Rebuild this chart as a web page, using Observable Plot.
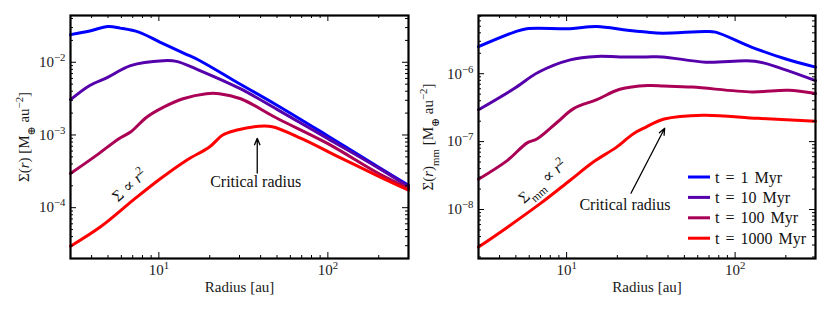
<!DOCTYPE html>
<html><head><meta charset="utf-8">
<script src="https://cdn.jsdelivr.net/npm/d3@7"></script>
<script src="https://cdn.jsdelivr.net/npm/@observablehq/plot@0.6"></script>
<style>
body{margin:0;background:#fff;}
#wrap{display:flex;width:830px;height:312px;}
svg, svg text{font-family:"Liberation Serif","Times New Roman","DejaVu Serif",serif !important;}
</style></head><body><div id="wrap"></div>
<script>
// ---------- data ----------
const seriesLabels = ["t = 1 Myr", "t = 10 Myr", "t = 100 Myr", "t = 1000 Myr"];
const seriesColors = ["#0000ff", "#5500aa", "#aa0055", "#ff0000"];

// Left panel: total surface density Σ(r)
const rL1 = [3, 3.9, 5.0, 5.9, 7.6, 10.2, 14.2, 17.5, 28.6, 50, 100, 200, 300];
const sL1 = [0.024, 0.027, 0.031, 0.0295, 0.026, 0.0188, 0.0132, 0.0105, 0.0054, 0.00257, 0.00097, 0.00036, 0.000204];
const rL2 = [3, 3.9, 4.97, 6.8, 10.6, 12.7, 17.5, 30.5, 50, 100, 200, 300];
const sL2 = [0.00306, 0.0048, 0.0062, 0.0090, 0.0105, 0.0103, 0.0077, 0.0043, 0.00225, 0.00089, 0.00035, 0.000195];
const rL3 = [3, 4.25, 5.8, 6.8, 8.5, 10.6, 13.9, 19.1, 22.8, 30.5, 50, 100, 200, 300];
const sL3 = [0.000295, 0.00052, 0.00089, 0.0011, 0.00177, 0.0024, 0.00315, 0.0037, 0.0037, 0.00315, 0.0017, 0.00076, 0.000295, 0.000185];
const rL4 = [3, 4.54, 7.1, 10.2, 14.6, 20, 23.9, 28.6, 39, 46.9, 70, 110, 200, 300];
const sL4 = [2.95e-5, 5.5e-5, 1.29e-4, 2.5e-4, 4.5e-4, 6.9e-4, 1.0e-3, 1.16e-3, 1.32e-3, 1.3e-3, 8.9e-4, 5.3e-4, 2.7e-4, 1.74e-4];

// Right panel: mm-dust surface density Σ(r)_mm
const rR1 = [3, 4.9, 5.8, 10.5, 15.1, 23, 29.7, 37, 67, 76.5, 126, 198, 300];
const sR1 = [2.5e-6, 4.1e-6, 4.6e-6, 4.6e-6, 4.95e-6, 4.35e-6, 4.1e-6, 3.96e-6, 4.2e-6, 4.1e-6, 2.45e-6, 1.66e-6, 1.25e-6];
const rR2 = [3, 4.86, 6.8, 10.5, 15.1, 20.7, 29.7, 37, 67, 131, 189, 300];
const sR2 = [2.95e-7, 6.0e-7, 1.05e-6, 1.6e-6, 1.8e-6, 1.77e-6, 1.77e-6, 1.77e-6, 1.48e-6, 1.53e-6, 1.19e-6, 7.9e-7];
const rR3 = [3, 4.46, 5.8, 6.7, 8.8, 11, 15.1, 20.7, 30.3, 37.8, 55.8, 126, 207, 300];
const sR3 = [2.8e-8, 5.3e-8, 9.5e-8, 1.1e-7, 1.93e-7, 3.06e-7, 4.15e-7, 5.9e-7, 6.7e-7, 6.6e-7, 6.35e-7, 5.4e-7, 5.7e-7, 5.1e-7];
const rR4 = [3, 4.46, 7.0, 10.5, 14.4, 19.8, 24.8, 29.6, 37.9, 64.5, 137, 300];
const sR4 = [2.8e-9, 5.5e-9, 1.23e-8, 2.7e-8, 5.0e-8, 8.3e-8, 1.3e-7, 1.64e-7, 2.15e-7, 2.45e-7, 2.2e-7, 2.0e-7];

// Axes
const xDomain = [3, 300];
const xMajor = [10, 100];
const xMinor = [4, 5, 6, 7, 8, 9, 20, 30, 40, 50, 60, 70, 80, 90, 200];
const yDomainL = [2.0e-5, 4.4e-2];
const yMajorL = [1e-4, 1e-3, 1e-2];
const yMinorL = [3e-5, 4e-5, 5e-5, 6e-5, 7e-5, 8e-5, 9e-5, 2e-4, 3e-4, 4e-4, 5e-4, 6e-4, 7e-4, 8e-4, 9e-4,
                 2e-3, 3e-3, 4e-3, 5e-3, 6e-3, 7e-3, 8e-3, 9e-3, 2e-2, 3e-2, 4e-2];
const yDomainR = [1.9e-9, 7.2e-6];
const yMajorR = [1e-8, 1e-7, 1e-6];
const yMinorR = [2e-9, 3e-9, 4e-9, 5e-9, 6e-9, 7e-9, 8e-9, 9e-9, 2e-8, 3e-8, 4e-8, 5e-8, 6e-8, 7e-8, 8e-8, 9e-8,
                 2e-7, 3e-7, 4e-7, 5e-7, 6e-7, 7e-7, 8e-7, 9e-7, 2e-6, 3e-6, 4e-6, 5e-6, 6e-6, 7e-6];
const xLabel = "Radius [au]";
const yLabelL = "Σ(*r*) [M_{⊕} au^{−2}]";
const yLabelR = "Σ(*r*)_{mm} [M_{⊕} au^{−2}]";

// Annotations
const slopeL = [{x: 6.7, y: 2.04e-4, text: "Σ ∝ *r*^{2}"}];
const slopeR = [{x: 7.2, y: 2.6e-8, text: "Σ_{mm} ∝ *r*^{2}"}];
const critL = [{x: 37.4, y: 2.27e-4, text: "Critical radius"}];
const critR = [{x: 22.2, y: 1.16e-8, text: "Critical radius"}];
const arrowL = [{x1: 38.2, y1: 3.0e-4, x2: 38.2, y2: 9.0e-4}];
const arrowR = [{x1: 24.1, y1: 1.74e-8, x2: 38.2, y2: 1.57e-7}];

// ---------- helpers ----------
const FONT = '"Liberation Serif", "Times New Roman", "DejaVu Serif", serif';
const rows = (rs, vs, s) => rs.map((r, i) => ({r, v: vs[i], s}));
const dataL = [...rows(rL1, sL1, seriesLabels[0]), ...rows(rL2, sL2, seriesLabels[1]), ...rows(rL3, sL3, seriesLabels[2]), ...rows(rL4, sL4, seriesLabels[3])];
const dataR = [...rows(rR1, sR1, seriesLabels[0]), ...rows(rR2, sR2, seriesLabels[1]), ...rows(rR3, sR3, seriesLabels[2]), ...rows(rR4, sR4, seriesLabels[3])];
const fmtPow = d => { const e = Math.round(Math.log10(d)); return "10^{" + (e < 0 ? "−" + (-e) : e) + "}"; };

function richText(el, s) {
  const re = /(\^\{[^}]*\}|_\{[^}]*\}|\*[^*]+\*)/g;
  el.textContent = "";
  s.split(re).forEach(part => {
    if (!part) return;
    const ts = document.createElementNS("http://www.w3.org/2000/svg", "tspan");
    if (part.startsWith("^{")) { ts.textContent = part.slice(2, -1); ts.setAttribute("baseline-shift", "super"); ts.setAttribute("font-size", "72%"); }
    else if (part.startsWith("_{")) { ts.textContent = part.slice(2, -1); ts.setAttribute("baseline-shift", "sub"); ts.setAttribute("font-size", "72%"); }
    else if (part.length > 2 && part[0] === "*" && part[part.length - 1] === "*") { ts.textContent = part.slice(1, -1); ts.setAttribute("font-style", "italic"); }
    else ts.textContent = part;
    el.appendChild(ts);
  });
}

const W = 415, H = 312, MT = 15, MB = 54;
function panel({data, yDomain, yMajor, yMinor, ml, mr, yLabel, yLabelOffset, slope, slopeRot, crit, arrows}) {
  const iw = W - ml - mr, ih = H - MT - MB;
  const svg = Plot.plot({
    width: W, height: H, marginLeft: ml, marginRight: mr, marginTop: MT, marginBottom: MB,
    style: {fontFamily: FONT, fontSize: "14px", color: "#1a1a1a", background: "white"},
    x: {type: "log", domain: xDomain},
    y: {type: "log", domain: yDomain},
    color: {domain: seriesLabels, range: seriesColors},
    marks: [
      Plot.line(data, {x: "r", y: "v", stroke: "s", z: "s", strokeWidth: 3, curve: "catmull-rom"}),
      Plot.text(slope, {x: "x", y: "y", text: "text", rotate: slopeRot, fontSize: 16, fill: "#111", fontFamily: FONT}),
      Plot.text(crit, {x: "x", y: "y", text: "text", fontSize: 16, fill: "#111", fontFamily: FONT}),
      Plot.arrow(arrows, {x1: "x1", y1: "y1", x2: "x2", y2: "y2", stroke: "black", strokeWidth: 1.3, headLength: 8, headAngle: 45}),
      // inward ticks on all four sides
      Plot.tickX(xMajor, {x: d => d, insetTop: ih - 6, stroke: "black"}),
      Plot.tickX(xMinor, {x: d => d, insetTop: ih - 3, stroke: "black"}),
      Plot.tickX(xMajor, {x: d => d, insetBottom: ih - 6, stroke: "black"}),
      Plot.tickX(xMinor, {x: d => d, insetBottom: ih - 3, stroke: "black"}),
      Plot.tickY(yMajor, {y: d => d, insetRight: iw - 6, stroke: "black"}),
      Plot.tickY(yMinor, {y: d => d, insetRight: iw - 3, stroke: "black"}),
      Plot.tickY(yMajor, {y: d => d, insetLeft: iw - 6, stroke: "black"}),
      Plot.tickY(yMinor, {y: d => d, insetLeft: iw - 3, stroke: "black"}),
      Plot.axisX(xMajor, {anchor: "bottom", tickSize: 0, tickPadding: 6, tickFormat: fmtPow, label: xLabel, labelAnchor: "center", labelOffset: 33, labelArrow: "none", fontSize: 15, fontFamily: FONT}),
      Plot.axisY(yMajor, {anchor: "left", tickSize: 0, tickPadding: 5, tickFormat: fmtPow, label: yLabel, labelAnchor: "center", labelOffset: yLabelOffset, labelArrow: "none", fontSize: 15, fontFamily: FONT}),
      Plot.frame({stroke: "black", strokeWidth: 2.2})
    ]
  });
  d3.select(svg).selectAll("text").each(function () {
    const t = this.textContent;
    if (/(\^\{|_\{|\*)/.test(t)) richText(this, t);
  });
  return svg;
}

const left = panel({data: dataL, yDomain: yDomainL, yMajor: yMajorL, yMinor: yMinorL, ml: 70, mr: 7,
  yLabel: yLabelL, yLabelOffset: 52, slope: slopeL, slopeRot: -42, crit: critL, arrows: arrowL});
const right = panel({data: dataR, yDomain: yDomainR, yMajor: yMajorR, yMinor: yMinorR, ml: 63, mr: 15,
  yLabel: yLabelR, yLabelOffset: 56, slope: slopeR, slopeRot: -41, crit: critR, arrows: arrowR});

// legend inside the right panel (lower right)
const lg = d3.select(right).append("g").attr("font-family", FONT).attr("font-size", 16).attr("text-anchor", "start");
const fr = W - 15, fb = H - MB;
seriesLabels.forEach((lab, i) => {
  const y = fb - 81 + i * 20.4;
  lg.append("line").attr("x1", fr - 127).attr("x2", fr - 105).attr("y1", y).attr("y2", y)
    .attr("stroke", seriesColors[i]).attr("stroke-width", 3);
  lg.append("text").attr("x", fr - 100).attr("y", y).attr("dy", "0.35em").attr("fill", "#111")
    .attr("text-anchor", "start").attr("word-spacing", "2px").text(lab);
});

document.getElementById("wrap").append(left, right);
</script></body></html>
